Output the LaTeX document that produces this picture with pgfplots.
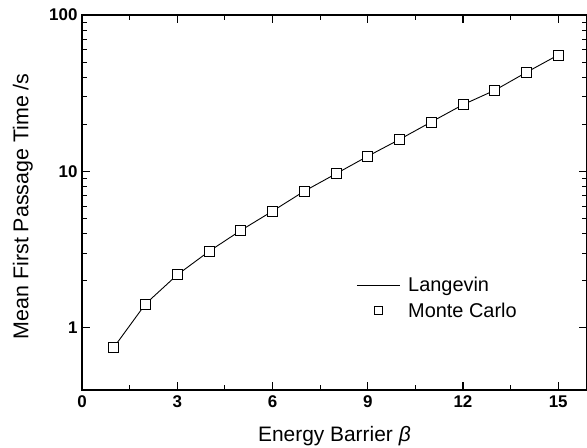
\documentclass[border=0pt]{standalone}
\usepackage{pgfplots}
\pgfplotsset{compat=1.18}
\usepackage{fontspec}
\setmainfont{Liberation Sans}
\begin{document}
\begin{tikzpicture}
\begin{axis}[
  name=ax,
  scale only axis,
  width=504.8bp, height=375bp,
  xmin=0, xmax=15.9,
  ymode=log, ymin=0.4, ymax=100,
  xtick={0,3,6,9,12,15},
  minor x tick num=1,
  ytick={1,10,100},
  yticklabels={1,10,100},
  tick align=inside,
  major tick length=8bp,
  minor tick length=5bp,
  axis line style={line width=1.6bp},
  every tick/.style={black,line width=1.2bp},
  every minor tick/.style={black,line width=1bp},
  /pgf/number format/assume math mode=true,
  xticklabel style={font=\fontsize{17}{20}\selectfont\bfseries,yshift=-2bp},
  yticklabel style={font=\fontsize{17}{20}\selectfont\bfseries,xshift=-1bp},
  xlabel={Energy Barrier \textit{β}},
  ylabel={Mean First Passage Time /s},
  every axis x label/.style={at={(axis description cs:0.5,0)},anchor=base,yshift=-51bp,font=\fontsize{21}{25}\selectfont},
  every axis y label/.style={at={(axis description cs:-0.117,0.49)},rotate=90,anchor=center,font=\fontsize{21.5}{25}\selectfont},
  legend style={draw=none,fill=none,font=\fontsize{20}{24}\selectfont,
    at={(axis description cs:0.543,0.307)},anchor=north west,
    row sep=6bp, column sep=6bp, inner sep=0bp},
  legend cell align=left,
]
\addplot[black,line width=0.9bp,no marks,
  legend image code/.code={\draw[black,line width=0.9bp] (0bp,0bp) -- (43bp,0bp);}]
  coordinates {(1,0.748) (2,1.42) (3,2.18) (4,3.08) (5,4.19) (6,5.57) (7,7.47) (8,9.66) (9,12.5) (10,16.0) (11,20.7) (12,26.7) (13,33.0) (14,43.0) (15,55.5)};
\addlegendentry{Langevin}
\addplot[only marks,mark=square*,mark size=5bp,mark options={fill=white,draw=black,line width=0.9bp},
  legend image code/.code={\draw[black,fill=white,line width=0.9bp] (18bp,-4bp) rectangle (26bp,4bp);}]
  coordinates {(1,0.748) (2,1.42) (3,2.18) (4,3.08) (5,4.19) (6,5.57) (7,7.47) (8,9.66) (9,12.5) (10,16.0) (11,20.7) (12,26.7) (13,33.0) (14,43.0) (15,55.5)};
\addlegendentry{Monte Carlo}
\end{axis}
\pgfresetboundingbox
\path[use as bounding box] (ax.south west) ++(-82bp,-58bp) rectangle ++(587bp,448bp);
\end{tikzpicture}
\end{document}
